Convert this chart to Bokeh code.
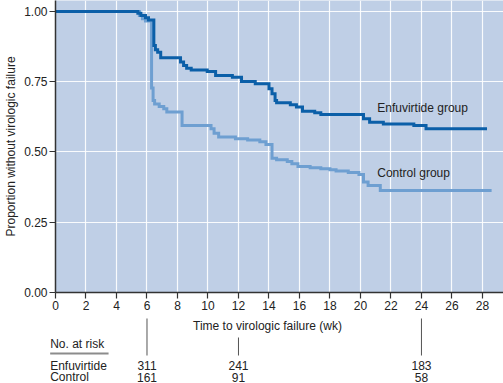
from bokeh.plotting import figure
from bokeh.models import Range1d, FixedTicker, NumeralTickFormatter
from bokeh.layouts import column, row
from bokeh.embed import file_html
from bokeh.resources import INLINE
from bokeh.core.properties import value

# ---------------- data ----------------
enf_time = [0, 5.4, 5.6, 5.9, 6.1, 6.45, 6.55, 6.7, 6.9, 8.2, 8.4, 8.6, 8.9, 9.95,
            10.5, 11.6, 12.2, 13.1, 14.0, 14.2, 14.4, 14.5, 15.4, 15.8, 16.2, 17.0,
            17.4, 20.2, 20.6, 21.5, 23.5, 24.3, 28.3]
enf_surv = [1.0, 0.994, 0.986, 0.978, 0.970, 0.879, 0.864, 0.855, 0.835, 0.820, 0.808,
            0.798, 0.792, 0.786, 0.772, 0.766, 0.751, 0.743, 0.725, 0.707, 0.683, 0.675,
            0.668, 0.660, 0.645, 0.640, 0.633, 0.618, 0.606, 0.600, 0.594, 0.583, 0.583]

ctl_time = [0, 5.5, 5.7, 5.9, 6.3, 6.4, 6.5, 6.8, 7.1, 7.3, 8.3, 10.2, 10.4, 10.7, 11.8,
            12.6, 13.4, 13.8, 14.2, 14.5, 15.2, 15.5, 15.9, 16.7, 17.4, 18.0, 18.4, 19.2,
            19.9, 20.2, 20.5, 21.3, 28.6]
ctl_surv = [1.0, 0.986, 0.974, 0.966, 0.728, 0.683, 0.671, 0.662, 0.654, 0.642, 0.594,
            0.583, 0.567, 0.553, 0.547, 0.543, 0.536, 0.527, 0.478, 0.472, 0.466, 0.458,
            0.448, 0.444, 0.440, 0.437, 0.432, 0.427, 0.420, 0.393, 0.381, 0.363, 0.363]

x_ticks = list(range(0, 29, 2))
y_ticks = [0.0, 0.25, 0.50, 0.75, 1.00]

curve_labels = ["Enfuvirtide group", "Control group"]
curve_label_x = [21.1, 21.1]
curve_label_y = [0.655, 0.425]

risk_times = [6, 12, 24]
risk_enf = [311, 241, 183]
risk_ctl = [161, 91, 58]
group_names = ["Enfuvirtide", "Control"]

x_title = "Time to virologic failure (wk)"
y_title = "Proportion without virologic failure"
risk_title = "No. at risk"

# ---------------- style / layout ----------------
FONT = "Liberation Sans"
BG = "#bfcfe6"
DARK = "#0b5fa8"
LIGHT = "#6e9fd1"
TXT = "#222222"
AX = "#333333"

W = 503
BL = 55
X_END = 29.38
PX_PER_X = (W - BL) / X_END
H1 = 314
H2 = 69

p = figure(width=W, height=H1, x_range=Range1d(0, X_END), y_range=Range1d(0, 1.039),
           output_backend="svg", toolbar_location=None,
           min_border_left=BL, min_border_right=0, min_border_top=0, min_border_bottom=22)
p.background_fill_color = BG
p.border_fill_color = "white"
p.outline_line_color = None

p.xaxis.ticker = FixedTicker(ticks=x_ticks)
p.yaxis.ticker = FixedTicker(ticks=y_ticks)
p.yaxis.formatter = NumeralTickFormatter(format="0.00")
for ax in (p.xaxis, p.yaxis):
    ax.axis_line_color = AX
    ax.axis_line_width = 1.5
    ax.major_tick_line_color = AX
    ax.major_tick_line_width = 1.2
    ax.major_tick_out = 6
    ax.major_tick_in = 0
    ax.minor_tick_line_color = None
    ax.major_label_text_font = FONT
    ax.major_label_text_font_size = "12px"
    ax.major_label_text_color = TXT
    ax.major_label_standoff = 2
p.yaxis.axis_label = y_title
p.yaxis.axis_label_text_font = FONT
p.yaxis.axis_label_text_font_size = "12px"
p.yaxis.axis_label_text_font_style = "normal"
p.yaxis.axis_label_text_color = TXT
p.yaxis.axis_label_standoff = 3

p.grid.grid_line_color = "white"
p.grid.grid_line_width = 1.2
p.grid.grid_line_alpha = 0.9

p.step(ctl_time, ctl_surv, mode="after", line_color=LIGHT, line_width=3, line_join="miter")
p.step(enf_time, enf_surv, mode="after", line_color=DARK, line_width=3, line_join="miter")

p.text(x=curve_label_x, y=curve_label_y, text=curve_labels, text_font=value(FONT),
       text_font_size="12px", text_color=TXT, text_align="left", text_baseline="middle")

# ---------------- risk table: full-width frame, same x scale ----------------
p2 = figure(width=W, height=H2, x_range=Range1d(-BL / PX_PER_X, X_END), y_range=Range1d(H2, 0),
            output_backend="svg", toolbar_location=None,
            min_border_left=0, min_border_right=0, min_border_top=0, min_border_bottom=0,
            x_axis_type=None, y_axis_type=None)
p2.grid.visible = False
p2.outline_line_color = None
p2.background_fill_color = "white"
p2.border_fill_color = "white"

line_top = [4, 23, 4]
line_bot = [41, 41, 41]
p2.segment(x0=risk_times, y0=line_top, x1=risk_times, y1=line_bot, line_color="#555555", line_width=1)

p2.text(x=[13.9], y=[11], text=[x_title], text_font=value(FONT), text_font_size="12px",
        text_color=TXT, text_align="center", text_baseline="middle")

LEFT_X = -0.35
row_y = [51, 62.5]
p2.text(x=[LEFT_X], y=[29], text=[risk_title], text_font=value(FONT), text_font_size="12px",
        text_color=TXT, text_align="left", text_baseline="middle")
p2.segment(x0=[LEFT_X], y0=[39], x1=[3.48], y1=[39], line_color="#8c8c8c", line_width=2)
p2.text(x=[LEFT_X] * len(group_names), y=row_y, text=group_names, text_font=value(FONT),
        text_font_size="12px", text_color=TXT, text_align="left", text_baseline="middle")
p2.text(x=risk_times, y=[row_y[0]] * len(risk_times), text=[str(v) for v in risk_enf],
        text_font=value(FONT), text_font_size="12px", text_color=TXT,
        text_align="center", text_baseline="middle")
p2.text(x=risk_times, y=[row_y[1]] * len(risk_times), text=[str(v) for v in risk_ctl],
        text_font=value(FONT), text_font_size="12px", text_color=TXT,
        text_align="center", text_baseline="middle")

layout = column(p, row(p2, spacing=0), spacing=0)
open("out.html", "w").write(file_html(layout, INLINE))
